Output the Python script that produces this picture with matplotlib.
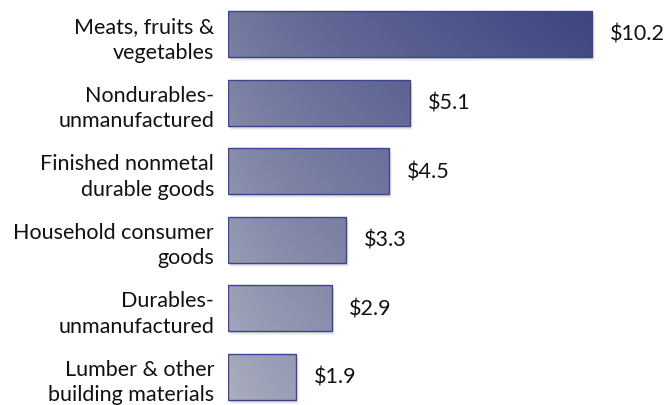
import numpy as np
import matplotlib
matplotlib.use("Agg")
import matplotlib.pyplot as plt
import matplotlib.transforms as mtransforms
from matplotlib.colors import LinearSegmentedColormap

# Data
categories = ["Meats, fruits &\nvegetables", "Nondurables-\nunmanufactured",
              "Finished nonmetal\ndurable goods", "Household consumer\ngoods",
              "Durables-\nunmanufactured", "Lumber & other\nbuilding materials"]
values = [10.2, 5.1, 4.5, 3.3, 2.9, 1.9]
value_labels = ["$10.2", "$5.1", "$4.5", "$3.3", "$2.9", "$1.9"]

plt.rcParams["font.family"] = ["Lato", "DejaVu Sans"]

fig = plt.figure(figsize=(6.66, 4.06), dpi=100)
ax = fig.add_axes([228 / 666, 0, 438 / 666, 1])

xmax = 12.27
ylim = (5.41, -0.51)
ax.set_xlim(0, xmax)
ax.set_ylim(*ylim)

ypos = np.arange(len(values))
h = 0.67

# soft shadow
for dx, dy, a in [(3, -4, 0.10), (2, -3, 0.15), (1, -2, 0.2)]:
    off = mtransforms.ScaledTranslation(dx / 100, dy / 100, fig.dpi_scale_trans)
    ax.barh(ypos, values, height=h, color="#9a9a9a", alpha=a,
            transform=ax.transData + off, zorder=1, linewidth=0)

# gradient: light bottom-left, dark top-right
cmap = LinearSegmentedColormap.from_list("g", ["#adb0c0", "#3c4480"])
gx = np.linspace(0, 1, 400)
gy = np.linspace(0, 1, 300)  # 0 = top row of image
X, Y = np.meshgrid(gx, gy)
T = np.clip(0.5 * (1 - Y) + 0.5 * (X * xmax / values[0]) ** 0.7, 0, 1)

bars = ax.barh(ypos, values, height=h, facecolor="none",
               edgecolor="#3d4590", linewidth=1.0, zorder=3)
for b in bars:
    im = ax.imshow(T, cmap=cmap, vmin=0, vmax=1, aspect="auto",
                   extent=(0, xmax, ylim[0], ylim[1]), origin="upper",
                   zorder=2, interpolation="bilinear")
    im.set_clip_path(b)
ax.set_xlim(0, xmax)
ax.set_ylim(*ylim)

# value labels
for y, v, lab in zip(ypos, values, value_labels):
    ax.text(v + 0.5, y, lab, va="center", ha="left", fontsize=15.5,
            color="#111111")

ax.set_yticks(ypos)
ax.set_yticklabels(categories, fontsize=15.5, linespacing=1.35,
                   color="#111111", va="center_baseline")
ax.tick_params(axis="y", length=0, pad=10)
ax.set_xticks([])
for s in ax.spines.values():
    s.set_visible(False)
ax.patch.set_alpha(0)

fig.savefig("out.png", dpi=100)
